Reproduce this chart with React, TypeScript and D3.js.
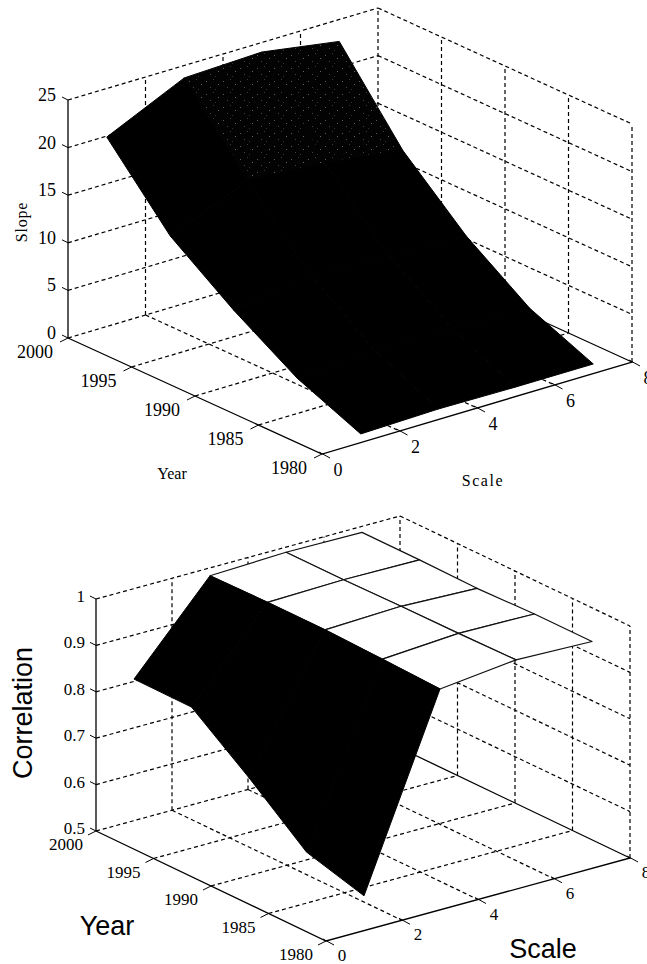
import React from "react";
import * as d3 from "d3";

// grid nodes of both surfaces
const scaleNodes = [1, 3, 5, 7];
const yearNodes = [2000, 1995, 1990, 1985, 1980];

// slope, one row per year, one column per scale
const slope2000 = [19.9, 23.7, 24.0, 22.7];
const slope1995 = [12.55, 16.0, 15.4, 14.3];
const slope1990 = [7.8, 9.0, 8.8, 8.35];
const slope1985 = [3.7, 4.2, 4.1, 3.8];
const slope1980 = [0.9, 1.1, 1.0, 1.0];

// correlation, same layout
const corr2000 = [0.805, 0.983, 0.989, 0.987];
const corr1995 = [0.804, 0.985, 0.989, 0.987];
const corr1990 = [0.711, 0.985, 0.991, 0.985];
const corr1985 = [0.61, 0.981, 0.992, 0.989];
const corr1980 = [0.575, 0.976, 0.994, 0.989];

const scaleTicks = [0, 2, 4, 6, 8];
const yearTicks = [2000, 1995, 1990, 1985, 1980];
const slopeTicks = [0, 5, 10, 15, 20, 25];
const corrTicks = [0.5, 0.6, 0.7, 0.8, 0.9, 1];

type Pt = [number, number];

const line = d3.line<Pt>();

const Surface3D = ({ rows, zTicks, zFmt, origin, scaleVec, yearVec, zVec, zLabel, yLabelOff, quadStyle, children }: any) => {
  const fs = d3.scaleLinear().domain([0, 8]).range([0, 1]);
  const fy = d3.scaleLinear().domain([2000, 1980]).range([0, 1]);
  const fz = d3.scaleLinear().domain(d3.extent(zTicks) as any).range([0, 1]);

  const project = (s: number, y: number, z: number): Pt => [
    origin[0] + fs(s) * scaleVec[0] + fy(y) * yearVec[0] + fz(z) * zVec[0],
    origin[1] + fs(s) * scaleVec[1] + fy(y) * yearVec[1] + fz(z) * zVec[1],
  ];

  const z0 = zTicks[0];
  const zTop = zTicks[zTicks.length - 1];
  const dashed: Pt[][] = [];

  // back walls and floor
  zTicks.forEach((z: number) => {
    dashed.push([project(0, 2000, z), project(8, 2000, z)]);
    if (z !== z0) dashed.push([project(8, 2000, z), project(8, 1980, z)]);
  });
  scaleTicks.slice(1).forEach((s) => {
    dashed.push([project(s, 2000, z0), project(s, 2000, zTop)]);
    if (s < 8) dashed.push([project(s, 2000, z0), project(s, 1980, z0)]);
  });
  yearTicks.slice(1).forEach((y) => {
    dashed.push([project(8, y, z0), project(8, y, zTop)]);
    if (y > 1980) dashed.push([project(0, y, z0), project(8, y, z0)]);
  });

  // painter's order, far cells first
  const quads: any[] = [];
  yearNodes.slice(1).forEach((y, i) => {
    scaleNodes.slice(1).forEach((s, j) => {
      const y0 = yearNodes[i];
      const s0 = scaleNodes[j];
      const pts: Pt[] = [
        project(s0, y0, rows[i][j]),
        project(s, y0, rows[i][j + 1]),
        project(s, y, rows[i + 1][j + 1]),
        project(s0, y, rows[i + 1][j]),
      ];
      const ground = project((s + s0) / 2, (y + y0) / 2, z0)[1];
      quads.push({ key: `${i}-${j}`, i, j, pts, ground });
    });
  });
  quads.sort((a, b) => a.ground - b.ground);

  const solid = "#000";

  return (
    <g fontFamily="'Liberation Serif', serif" fontSize={yLabelOff.size} fill="#000">
      {dashed.map((d, i) => (
        <path key={i} d={line(d) as string} fill="none" stroke="#000" strokeWidth={1.2} strokeDasharray="4 3" />
      ))}

      {/* solid axis lines */}
      <path d={line([project(0, 2000, z0), project(0, 1980, z0), project(8, 1980, z0), project(8, 2000, z0)]) as string} fill="none" stroke={solid} strokeWidth={1.3} />
      <path d={line([project(0, 2000, z0), project(0, 2000, zTop)]) as string} fill="none" stroke={solid} strokeWidth={1.3} />

      {zTicks.map((z: number) => {
        const p = project(0, 2000, z);
        return (
          <g key={z}>
            <path d={line([p, [p[0] - 6, p[1] - 3]]) as string} stroke={solid} fill="none" />
            <text x={zLabel.x} y={p[1] + zLabel.dy} textAnchor="end">{zFmt(z)}</text>
          </g>
        );
      })}
      {yearTicks.map((y) => {
        const p = project(0, y, z0);
        return (
          <g key={y}>
            <path d={line([p, [p[0] - 8, p[1] + 4]]) as string} stroke={solid} fill="none" />
            <text x={p[0] + yLabelOff.year[0]} y={p[1] + yLabelOff.year[1] + 6} textAnchor="middle">{y}</text>
          </g>
        );
      })}
      {scaleTicks.map((s) => {
        const p = project(s, 1980, z0);
        return (
          <g key={s}>
            <path d={line([[p[0] - 3, p[1] - 2], [p[0] + 8, p[1] + 4]]) as string} stroke={solid} fill="none" />
            <text x={p[0] + yLabelOff.scale[0]} y={p[1] + yLabelOff.scale[1] + 6} textAnchor="middle">{s}</text>
          </g>
        );
      })}

      {quads.map((q) => {
        const st = quadStyle(q.i, q.j);
        return <path key={q.key} d={(line(q.pts) as string) + "Z"} fill={st.fill} stroke={st.stroke} strokeWidth={st.width} strokeLinejoin="round" />;
      })}
      {children}
    </g>
  );
};

const slopeStyle = (i: number, j: number) =>
  i === 0 && j > 0
    ? { fill: "url(#specks)", stroke: "#000", width: 1 }
    : { fill: "#000", stroke: "#000", width: 1 };

const corrStyle = (_i: number, j: number) =>
  j === 0 ? { fill: "#000", stroke: "#000", width: 1 } : { fill: "#fff", stroke: "#111", width: 1.2 };

export default function App() {
  return (
    <svg width={647} height={964} style={{ position: "absolute", left: 0, top: 0, background: "#fff" }}>
      <defs>
        <pattern id="specks" width={17} height={13} patternUnits="userSpaceOnUse">
          <rect width={17} height={13} fill="#030303" />
          <rect x={2} y={3} width={1} height={1} fill="#5a5a5a" />
          <rect x={9} y={1} width={1} height={1} fill="#3c3c3c" />
          <rect x={14} y={6} width={1} height={1} fill="#666" />
          <rect x={6} y={9} width={1} height={1} fill="#444" />
          <rect x={11} y={11} width={1} height={1} fill="#333" />
        </pattern>
      </defs>

      <Surface3D
        rows={[slope2000, slope1995, slope1990, slope1985, slope1980]}
        zTicks={slopeTicks}
        zFmt={(z: number) => `${z}`}
        origin={[68, 338]}
        scaleVec={[310, -92]}
        yearVec={[254, 116]}
        zVec={[0, -238]}
        zLabel={{ x: 56, dy: 1 }}
        yLabelOff={{ size: 18, year: [-33, 14], scale: [16, 16] }}
        quadStyle={slopeStyle}
      >
        <text transform="translate(27,222) rotate(-90)" textAnchor="middle" fontSize={16} letterSpacing={0.8}>Slope</text>
        <text x={172} y={479} textAnchor="middle" fontSize={16}>Year</text>
        <text x={483} y={486} textAnchor="middle" fontSize={16} letterSpacing={1.6}>Scale</text>
      </Surface3D>

      <Surface3D
        rows={[corr2000, corr1995, corr1990, corr1985, corr1980]}
        zTicks={corrTicks}
        zFmt={(z: number) => `${z}`}
        origin={[96, 831]}
        scaleVec={[304, -83]}
        yearVec={[230, 110]}
        zVec={[0, -232]}
        zLabel={{ x: 85, dy: 3 }}
        yLabelOff={{ size: 17, year: [-30, 13], scale: [16, 14] }}
        quadStyle={corrStyle}
      >
        <g fontFamily="'Liberation Sans', sans-serif" fontSize={27}>
          <text transform="translate(32,713) rotate(-90)" textAnchor="middle">Correlation</text>
          <text x={107} y={935} textAnchor="middle">Year</text>
          <text x={543} y={958} textAnchor="middle">Scale</text>
        </g>
      </Surface3D>
    </svg>
  );
}
